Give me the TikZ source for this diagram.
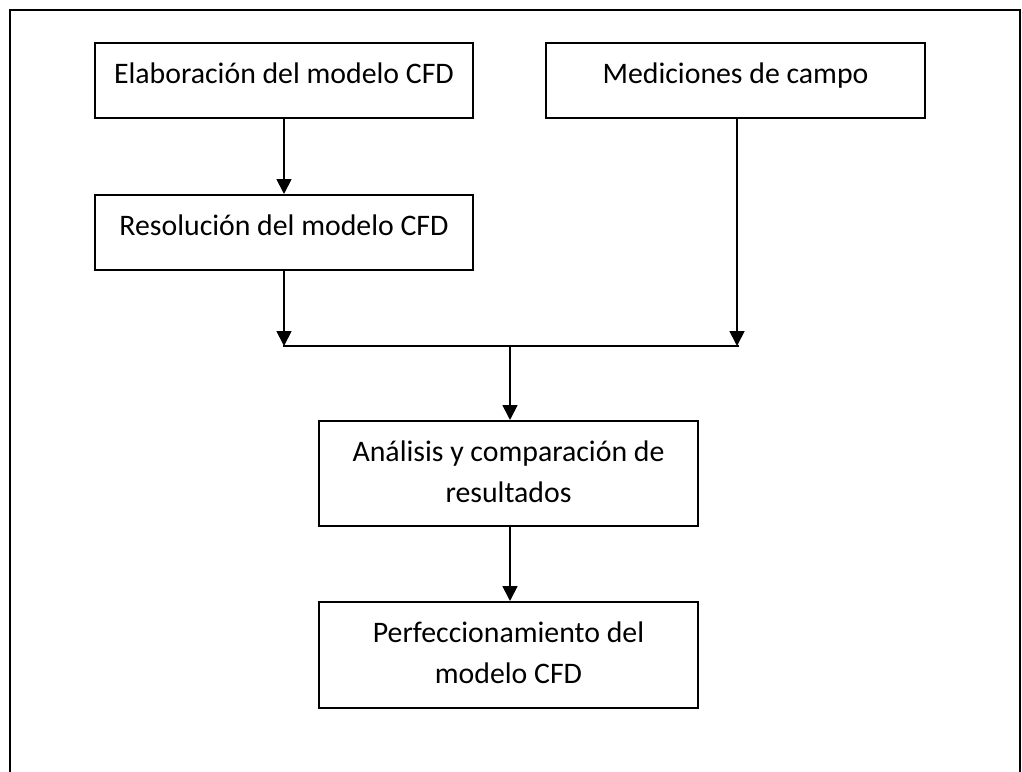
\documentclass[tikz,border=0pt]{standalone}
\usepackage{fontspec}
\setmainfont{Carlito}
\usetikzlibrary{arrows.meta}
\tikzset{
  box/.style={draw=black, line width=2pt, minimum height=75pt, minimum width=378pt, inner sep=0pt},
  label/.style={anchor=base, inner sep=0pt, font=\fontsize{29.8}{41}\selectfont, align=center},
  arr/.style={line width=1.8pt, -{Triangle[width=15pt,length=15pt]}},
  conn/.style={line width=1.8pt},
  frame/.style={line width=1.8pt}
}
\begin{document}
\begin{tikzpicture}[x=1pt,y=-1pt]
\useasboundingbox (0,0) rectangle (1022,771);
\draw[frame] (10,790) -- (10,10) -- (1020,10) -- (1020,790);
% boxes
\node[box] (b1) at (284,80.5) {};
\node[box] (b2) at (284,232.5) {};
\node[box, minimum width=379pt] (b3) at (735.5,80.5) {};
\node[box, minimum width=379pt, minimum height=105pt] (b4) at (508.5,473.5) {};
\node[box, minimum width=379pt, minimum height=106pt] (b5) at (508.5,655) {};
% texts
\node[label] (t1) at (284,83) {Elaboración del modelo CFD};
\node[label] (t2) at (284,235) {Resolución del modelo CFD};
\node[label] (t3) at (735.5,83) {Mediciones de campo};
\node[label] (t4) at (508.5,502) {Análisis y comparación de\\resultados};
\node[label] (t5) at (508.5,683) {Perfeccionamiento del\\modelo CFD};
% junction
\coordinate (jl) at (284,346);
\coordinate (jr) at (737,346);
\coordinate (jm) at (510,346);
\coordinate (hl) at (283,346);
\coordinate (hr) at (739,346);
% connectors
\draw[arr] (b1.south) -- (b2.north);
\draw[arr] (b2.south) -- (jl);
\draw[arr] (b3.south -| jr) -- (jr);
\draw[conn] (hl) -- (hr);
\draw[arr] (jm) -- (jm |- b4.north);
\draw[arr] (jm |- b4.south) -- (jm |- b5.north);
\end{tikzpicture}
\end{document}
